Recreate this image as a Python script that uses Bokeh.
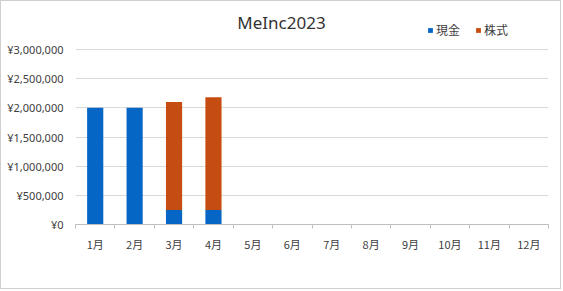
from bokeh.plotting import figure
from bokeh.models import Range1d, FixedTicker, Legend, LegendItem, Label, ColumnDataSource
from bokeh.embed import file_html
from bokeh.resources import INLINE

months = ["1月", "2月", "3月", "4月", "5月", "6月", "7月", "8月", "9月", "10月", "11月", "12月"]
cash = [2000000, 2000000, 250000, 250000, 0, 0, 0, 0, 0, 0, 0, 0]
stock = [0, 0, 1850000, 1930000, 0, 0, 0, 0, 0, 0, 0, 0]
series_names = ["現金", "株式"]
y_ticks = [0, 500000, 1000000, 1500000, 2000000, 2500000, 3000000]
y_labels = ["¥0", "¥500,000", "¥1,000,000", "¥1,500,000", "¥2,000,000", "¥2,500,000", "¥3,000,000"]
title_text = "MeInc2023"

BLUE = "#0566C6"
ORANGE = "#C64D11"
TXT = "#404040"

# layout: plot area of 175 px for the 0..3M axis, with headroom above for title/legend
AXIS_PX = 175.0
FRAME_PX = 223.0
y_max = y_ticks[-1]

xs = [i + 0.5 for i in range(len(months))]
src = ColumnDataSource(dict(x=xs, cash=cash, stock=stock,
                            top=[c + s for c, s in zip(cash, stock)]))

p = figure(width=561, height=289, output_backend="svg", toolbar_location=None,
           x_range=Range1d(0, len(months)), y_range=Range1d(0, y_max * FRAME_PX / AXIS_PX),
           min_border_left=74, min_border_right=14, min_border_top=0, min_border_bottom=66)
p.styles = {"border": "1px solid #d0d0d0"}
p.outline_line_color = None
p.background_fill_color = "white"
p.border_fill_color = "white"

r1 = p.vbar(x="x", bottom=0, top="cash", width=0.41, source=src, fill_color=BLUE, line_color=None)
r2 = p.vbar(x="x", bottom="cash", top="top", width=0.41, source=src, fill_color=ORANGE, line_color=None)

# x axis
p.xaxis.ticker = FixedTicker(ticks=xs, minor_ticks=list(range(len(months) + 1)))
p.xaxis.major_label_overrides = {x: m for x, m in zip(xs, months)}
p.xaxis.major_tick_out = 0
p.xaxis.major_tick_in = 0
p.xaxis.minor_tick_out = 4
p.xaxis.minor_tick_in = 0
p.xaxis.minor_tick_line_color = "#bfbfbf"
p.xaxis.axis_line_color = "#bfbfbf"
p.xaxis.major_label_standoff = 7
p.xaxis.major_label_text_font = "Noto Sans CJK JP"
p.xaxis.major_label_text_font_size = "11px"
p.xaxis.major_label_text_color = TXT
p.xgrid.grid_line_color = None

# y axis
p.yaxis.ticker = FixedTicker(ticks=y_ticks)
p.yaxis.major_label_overrides = {t: l for t, l in zip(y_ticks, y_labels)}
p.yaxis.axis_line_color = None
p.yaxis.major_tick_line_color = None
p.yaxis.minor_tick_line_color = None
p.yaxis.major_tick_out = 0
p.yaxis.major_label_standoff = 12
p.yaxis.major_label_text_font = "Noto Sans"
p.yaxis.major_label_text_font_size = "11px"
p.yaxis.major_label_text_color = TXT
p.ygrid.grid_line_color = "#d9d9d9"

# title
p.add_layout(Label(x=206, y=202, x_units="screen", y_units="screen", text=title_text,
                   text_align="center", text_baseline="middle",
                   text_font="Noto Sans", text_font_size="17px", text_color="#333333"))

legend = Legend(items=[LegendItem(label=series_names[0], renderers=[r1]),
                       LegendItem(label=series_names[1], renderers=[r2])],
                orientation="horizontal", location=(352, 186),
                glyph_width=6, glyph_height=6, label_standoff=3, spacing=15,
                padding=0, margin=0, border_line_color=None, background_fill_alpha=0,
                label_text_font="Noto Sans CJK JP", label_text_font_size="12px",
                label_text_color=TXT, label_height=13)
p.add_layout(legend, "center")

open("out.html", "w").write(file_html(p, INLINE))
